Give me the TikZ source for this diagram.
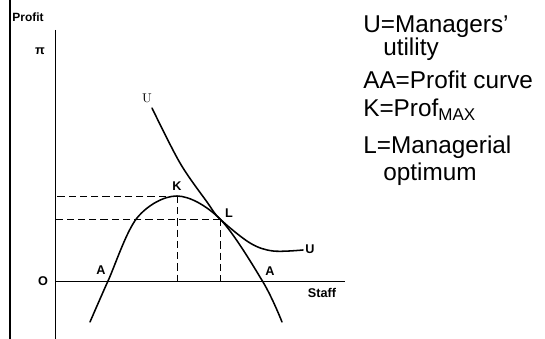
\documentclass[tikz,border=0pt]{standalone}
\usepackage{fontspec}
\usepackage{tikz}
\usetikzlibrary{positioning, calc}
\newfontfamily\legendfont{Liberation Sans}
\tikzset{
  curve/.style={line width=1.1pt, line cap=round},
  axis/.style={line width=0.6pt},
  guide/.style={line width=0.6pt, dash pattern=on 5pt off 3pt},
  lbl/.style={font=\legendfont\fontsize{9}{10}\selectfont\bfseries, inner sep=0pt},
  legend/.style={font=\legendfont\fontsize{17.3}{20}\selectfont, inner sep=0pt, anchor=base west},
}

\begin{document}
\begin{tikzpicture}[x=0.025cm, y=-0.025cm]
\useasboundingbox (0,0) rectangle (545,339);

% Ramka i osie
\draw[line width=2pt] (10,0) -- (10,339);
\coordinate (origin) at (55,281);
\coordinate (ytop) at (55,30);
\coordinate (ybot) at (55,339);
\coordinate (xend) at (345,281);
\draw[axis] (ytop) -- (ybot);
\draw[axis] (origin) -- (xend);
\node[lbl, font=\legendfont\fontsize{8.5}{10}\selectfont\bfseries] (profit) at (28,17) {Profit};
\node[lbl] (pi) at (40,51) {π};
\node[lbl] (o) at (43,281) {O};
\node[lbl] (staff) at (322,293) {Staff};

% Punkty K i L
\coordinate (K) at (177,196);
\coordinate (L) at (220,219);

% Linie pomocnicze
\draw[guide] (K) -- (K -| origin);
\draw[guide] (K) -- (K |- origin);
\draw[guide] (L) -- (L -| origin);
\draw[guide] (L) -- (L |- origin);

% Krzywa zysku AA
\draw[curve] plot[smooth, tension=0.55] coordinates {
  (90,322) (108,281) (137,218) (177,196) (220,219) (263,282) (282,322)};

% Krzywa uzytecznosci U
\draw[curve] plot[smooth, tension=0.55] coordinates {
  (152,108) (180,163) (207,202) (220,219) (250,243) (273,251) (303,250)};

% Etykiety
\node[lbl] (klbl) at (177,186) {K};
\node[lbl] (llbl) at (229,213) {L};
\node[lbl] (aleft) at (101,270) {A};
\node[lbl] (aright) at (270,271) {A};
\node[lbl] (uright) at (310,249) {U};
\node[inner sep=0pt, font=\fontsize{9}{10}\selectfont] (utop) at (147,98) {U};

% Legenda
\node[legend] (leg1) at (363,33) {U=Managers’};
\node[legend] (leg2) at (383,56) {utility};
\node[legend] (leg3) at (363,89) {AA=Profit curve};
\node[legend] (leg4) at (363,117) {K=Prof\textsubscript{MAX}};
\node[legend] (leg5) at (363,154) {L=Managerial};
\node[legend] (leg6) at (383,181) {optimum};

\end{tikzpicture}
\end{document}
